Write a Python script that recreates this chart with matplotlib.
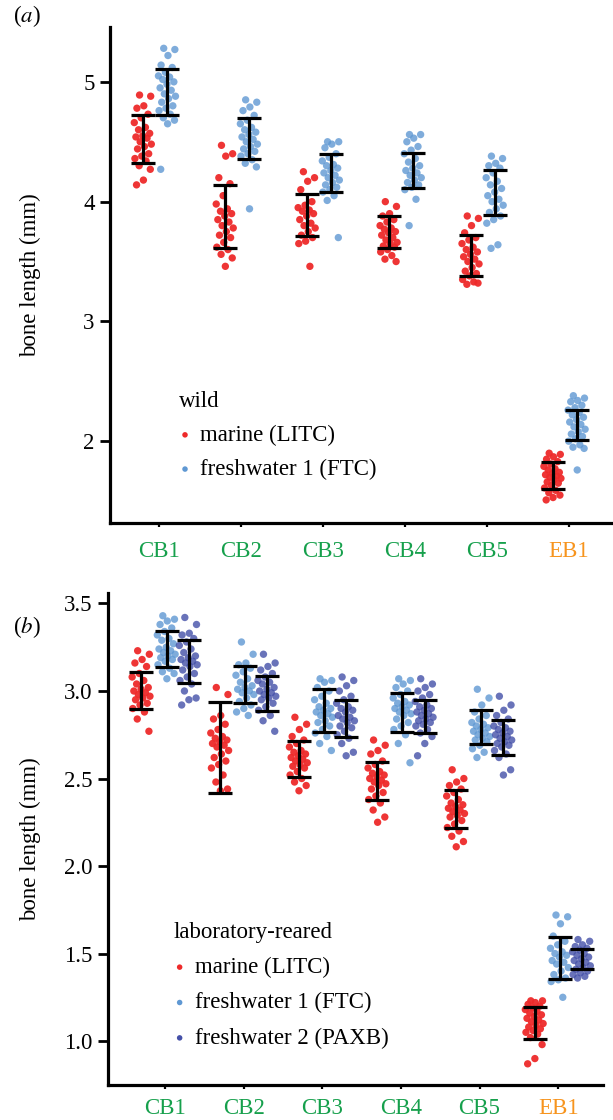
import numpy as np
import matplotlib
matplotlib.use('Agg')
import matplotlib.pyplot as plt
from matplotlib import font_manager
from matplotlib.transforms import blended_transform_factory

available = {f.name for f in font_manager.fontManager.ttflist}
serif = next(n for n in ['Liberation Serif', 'Times New Roman', 'Nimbus Roman',
                         'STIXGeneral', 'DejaVu Serif'] if n in available)
plt.rcParams['font.family'] = [serif, 'DejaVu Serif']
plt.rcParams['mathtext.fontset'] = 'stix'

bones = ['CB1', 'CB2', 'CB3', 'CB4', 'CB5', 'EB1']
bone_colors = ['#16a04c'] * 5 + ['#f7941d']

# (a) wild fish, bone length (mm)
wild_marine = [
    [4.89, 4.88, 4.80, 4.78, 4.73, 4.70, 4.66, 4.62, 4.60, 4.57, 4.55, 4.54, 4.53,
     4.50, 4.48, 4.46, 4.44, 4.40, 4.38, 4.36, 4.34, 4.30, 4.27, 4.18, 4.14],
    [4.47, 4.40, 4.38, 4.20, 4.15, 4.05, 3.98, 3.94, 3.92, 3.90, 3.88, 3.85, 3.83,
     3.80, 3.78, 3.75, 3.72, 3.70, 3.66, 3.62, 3.60, 3.56, 3.53, 3.46],
    [4.25, 4.20, 4.17, 4.10, 4.00, 3.97, 3.95, 3.93, 3.92, 3.90, 3.88, 3.85, 3.82,
     3.80, 3.78, 3.75, 3.72, 3.70, 3.67, 3.65, 3.46],
    [4.00, 3.96, 3.90, 3.88, 3.85, 3.83, 3.80, 3.78, 3.77, 3.75, 3.74, 3.72, 3.70,
     3.68, 3.66, 3.65, 3.63, 3.62, 3.60, 3.58, 3.55, 3.52, 3.50],
    [3.88, 3.86, 3.80, 3.74, 3.70, 3.68, 3.65, 3.62, 3.60, 3.58, 3.56, 3.54, 3.52,
     3.50, 3.48, 3.45, 3.42, 3.40, 3.38, 3.35, 3.33, 3.31, 3.32],
    [1.90, 1.89, 1.87, 1.85, 1.83, 1.81, 1.79, 1.77, 1.76, 1.74, 1.73, 1.72, 1.71,
     1.70, 1.69, 1.68, 1.66, 1.65, 1.63, 1.61, 1.59, 1.57, 1.55, 1.53, 1.51],
]
wild_fresh1 = [
    [5.28, 5.27, 5.22, 5.14, 5.12, 5.08, 5.05, 5.04, 5.02, 5.00, 4.98, 4.95, 4.93,
     4.90, 4.88, 4.86, 4.83, 4.80, 4.78, 4.76, 4.73, 4.70, 4.68, 4.65, 4.27],
    [4.85, 4.83, 4.79, 4.76, 4.72, 4.68, 4.65, 4.62, 4.60, 4.58, 4.56, 4.54, 4.52,
     4.50, 4.48, 4.46, 4.44, 4.42, 4.40, 4.38, 4.35, 4.32, 4.29, 3.94],
    [4.50, 4.50, 4.48, 4.45, 4.40, 4.37, 4.34, 4.31, 4.30, 4.28, 4.26, 4.24, 4.22,
     4.20, 4.18, 4.16, 4.14, 4.12, 4.10, 4.08, 4.05, 4.01, 3.70],
    [4.56, 4.56, 4.53, 4.50, 4.46, 4.43, 4.40, 4.36, 4.33, 4.30, 4.28, 4.26, 4.24,
     4.22, 4.20, 4.18, 4.16, 4.14, 4.12, 4.10, 4.02, 3.80],
    [4.38, 4.36, 4.32, 4.30, 4.28, 4.24, 4.20, 4.17, 4.14, 4.11, 4.08, 4.05, 4.02,
     4.00, 3.97, 3.94, 3.91, 3.88, 3.85, 3.82, 3.64, 3.61],
    [2.38, 2.36, 2.34, 2.33, 2.30, 2.28, 2.26, 2.24, 2.22, 2.20, 2.18, 2.16, 2.14,
     2.12, 2.10, 2.08, 2.06, 2.04, 2.02, 2.00, 1.97, 1.95, 1.94, 1.76],
]
# error bar ends
wild_marine_lo = [4.32, 3.61, 3.71, 3.61, 3.38, 1.60]
wild_marine_hi = [4.72, 4.14, 4.06, 3.88, 3.72, 1.83]
wild_fresh1_lo = [4.725, 4.36, 4.08, 4.11, 3.89, 2.01]
wild_fresh1_hi = [5.105, 4.70, 4.40, 4.41, 4.26, 2.26]

# (b) laboratory-reared fish, bone length (mm)
lab_marine = [
    [3.23, 3.21, 3.18, 3.16, 3.14, 3.10, 3.08, 3.06, 3.04, 3.02, 3.01, 3.00, 2.99,
     2.98, 2.97, 2.96, 2.95, 2.93, 2.92, 2.90, 2.88, 2.84, 2.77],
    [3.02, 2.98, 2.86, 2.84, 2.81, 2.78, 2.76, 2.74, 2.73, 2.72, 2.71, 2.70, 2.69,
     2.68, 2.66, 2.64, 2.62, 2.60, 2.58, 2.56, 2.52, 2.48, 2.44, 2.43],
    [2.85, 2.81, 2.78, 2.74, 2.72, 2.70, 2.68, 2.66, 2.65, 2.64, 2.63, 2.62, 2.61,
     2.60, 2.59, 2.58, 2.57, 2.56, 2.54, 2.52, 2.50, 2.48, 2.46, 2.43],
    [2.72, 2.69, 2.66, 2.64, 2.60, 2.58, 2.56, 2.54, 2.53, 2.52, 2.51, 2.50, 2.49,
     2.48, 2.47, 2.46, 2.44, 2.42, 2.40, 2.38, 2.36, 2.32, 2.28, 2.25],
    [2.55, 2.50, 2.48, 2.46, 2.44, 2.42, 2.40, 2.38, 2.36, 2.35, 2.34, 2.33, 2.32,
     2.31, 2.30, 2.29, 2.28, 2.26, 2.24, 2.22, 2.20, 2.17, 2.14, 2.11],
    [1.23, 1.23, 1.22, 1.21, 1.20, 1.19, 1.18, 1.17, 1.16, 1.15, 1.14, 1.13, 1.12,
     1.11, 1.10, 1.09, 1.08, 1.07, 1.06, 1.05, 1.04, 1.02, 0.98, 0.90, 0.87],
]
lab_fresh1 = [
    [3.43, 3.41, 3.40, 3.38, 3.36, 3.34, 3.32, 3.30, 3.29, 3.27, 3.25, 3.24, 3.23,
     3.22, 3.21, 3.20, 3.19, 3.18, 3.17, 3.15, 3.13, 3.11, 3.10, 3.07],
    [3.28, 3.21, 3.16, 3.15, 3.13, 3.11, 3.09, 3.07, 3.05, 3.03, 3.02, 3.01, 3.00,
     2.99, 2.98, 2.96, 2.94, 2.92, 2.90, 2.88, 2.86],
    [3.07, 3.06, 3.05, 3.02, 3.00, 2.97, 2.95, 2.93, 2.91, 2.90, 2.89, 2.88, 2.87,
     2.86, 2.85, 2.83, 2.82, 2.80, 2.78, 2.76, 2.74, 2.70, 2.66],
    [3.07, 3.06, 3.04, 3.02, 3.00, 2.98, 2.96, 2.94, 2.93, 2.92, 2.91, 2.90, 2.89,
     2.88, 2.87, 2.86, 2.84, 2.82, 2.80, 2.78, 2.75, 2.70, 2.59],
    [3.01, 2.96, 2.92, 2.88, 2.86, 2.84, 2.82, 2.81, 2.80, 2.79, 2.78, 2.77, 2.76,
     2.75, 2.74, 2.73, 2.72, 2.71, 2.69, 2.67, 2.65, 2.62],
    [1.72, 1.71, 1.67, 1.60, 1.57, 1.55, 1.53, 1.51, 1.50, 1.49, 1.48, 1.46, 1.45,
     1.44, 1.42, 1.40, 1.38, 1.36, 1.35, 1.34, 1.25],
]
lab_fresh2 = [
    [3.42, 3.38, 3.33, 3.32, 3.30, 3.28, 3.26, 3.24, 3.22, 3.20, 3.19, 3.18, 3.17,
     3.16, 3.15, 3.14, 3.12, 3.10, 3.08, 3.06, 3.04, 3.00, 2.96, 2.95, 2.92],
    [3.21, 3.16, 3.14, 3.12, 3.10, 3.08, 3.06, 3.05, 3.04, 3.02, 3.01, 3.00, 2.99,
     2.98, 2.97, 2.96, 2.95, 2.93, 2.91, 2.89, 2.86, 2.83, 2.77],
    [3.08, 3.06, 3.03, 3.00, 2.97, 2.95, 2.93, 2.91, 2.90, 2.89, 2.88, 2.86, 2.85,
     2.84, 2.83, 2.82, 2.80, 2.79, 2.77, 2.75, 2.73, 2.70, 2.65, 2.63],
    [3.07, 3.04, 3.02, 3.00, 2.98, 2.96, 2.94, 2.92, 2.91, 2.90, 2.89, 2.88, 2.87,
     2.86, 2.85, 2.84, 2.83, 2.82, 2.81, 2.80, 2.78, 2.76, 2.74, 2.70, 2.63],
    [2.97, 2.92, 2.89, 2.86, 2.84, 2.82, 2.80, 2.79, 2.78, 2.77, 2.76, 2.75, 2.74,
     2.73, 2.72, 2.71, 2.70, 2.69, 2.68, 2.66, 2.64, 2.62, 2.55, 2.52],
    [1.58, 1.57, 1.55, 1.54, 1.53, 1.52, 1.51, 1.50, 1.49, 1.48, 1.47, 1.46, 1.45,
     1.44, 1.43, 1.42, 1.41, 1.40, 1.39, 1.38, 1.37, 1.36],
]
lab_marine_lo = [2.90, 2.42, 2.507, 2.377, 2.215, 1.01]
lab_marine_hi = [3.11, 2.94, 2.714, 2.592, 2.434, 1.196]
lab_fresh1_lo = [3.135, 2.93, 2.764, 2.764, 2.695, 1.354]
lab_fresh1_hi = [3.343, 3.14, 3.01, 2.987, 2.889, 1.592]
lab_fresh2_lo = [3.044, 2.886, 2.735, 2.758, 2.634, 1.411]
lab_fresh2_hi = [3.291, 3.086, 2.949, 2.949, 2.832, 1.526]

RED = '#ee2a2a'
LBLUE = '#5f98d3'
DBLUE = '#4450a8'
FS = 16.5


def strip(ax, groups, lo, hi, offset, color, alpha, label, half=0.11):
    for i, vals in enumerate(groups):
        vals = np.asarray(vals)
        n = len(vals)
        jit = ((np.arange(n) * 0.618034 + 0.3) % 1 - 0.5) * 2 * half
        ax.scatter(i + offset + jit, vals, s=28, color=color, alpha=alpha,
                   edgecolors='none', zorder=2, label=label if i == 0 else None)
    lo = np.asarray(lo)
    hi = np.asarray(hi)
    mid = (lo + hi) / 2
    ax.errorbar(np.arange(len(lo)) + offset, mid, yerr=(hi - lo) / 2, fmt='none',
                ecolor='black', elinewidth=2.3, capsize=8.3, capthick=2.3, zorder=3)


def style(ax, xpad):
    for s in ['top', 'right']:
        ax.spines[s].set_visible(False)
    for s in ['left', 'bottom']:
        ax.spines[s].set_linewidth(2.3)
    ax.tick_params(axis='y', length=7, width=2, labelsize=FS, pad=4)
    ax.tick_params(axis='x', length=3, width=1.6, labelsize=FS, pad=xpad)
    ax.set_xticks(range(len(bones)))
    ax.set_xticklabels(bones)
    for t, c in zip(ax.get_xticklabels(), bone_colors):
        t.set_color(c)
    ax.set_ylabel('bone length (mm)', fontsize=FS, va='center')
    # y label centred about 30 px from the left edge of the figure
    ax.yaxis.set_label_coords(30 / 613, 0.5,
                              transform=blended_transform_factory(fig.transFigure, ax.transAxes))


fig = plt.figure(figsize=(6.13, 11.2), dpi=100)

ax1 = fig.add_axes([0.1794, 0.533, 0.8206, 0.4429])
strip(ax1, wild_marine, wild_marine_lo, wild_marine_hi, -0.195, RED, 0.95, 'marine (LITC)')
strip(ax1, wild_fresh1, wild_fresh1_lo, wild_fresh1_hi, 0.10, LBLUE, 0.8, 'freshwater 1 (FTC)')
ax1.set_xlim(-0.6, 5.54)
ax1.set_ylim(1.317, 5.458)
ax1.set_yticks([2, 3, 4, 5])
style(ax1, 10)
leg1 = ax1.legend(title='wild', loc='upper left', bbox_to_anchor=(0.115, 0.29),
                  frameon=False, fontsize=FS, title_fontsize=FS, handlelength=0.5,
                  handletextpad=0.4, markerscale=0.75, labelspacing=0.57,
                  borderpad=0, alignment='left')

ax2 = fig.add_axes([0.1762, 0.03125, 0.8075, 0.4393])
strip(ax2, lab_marine, lab_marine_lo, lab_marine_hi, -0.30, RED, 0.95, 'marine (LITC)', 0.12)
strip(ax2, lab_fresh1, lab_fresh1_lo, lab_fresh1_hi, 0.02, LBLUE, 0.8, 'freshwater 1 (FTC)', 0.12)
strip(ax2, lab_fresh2, lab_fresh2_lo, lab_fresh2_hi, 0.30, DBLUE, 0.8, 'freshwater 2 (PAXB)', 0.12)
ax2.set_xlim(-0.725, 5.57)
ax2.set_ylim(0.749, 3.56)
ax2.set_yticks([1.0, 1.5, 2.0, 2.5, 3.0, 3.5])
ax2.set_yticklabels(['1.0', '1.5', '2.0', '2.5', '3.0', '3.5'])
style(ax2, 6)
leg2 = ax2.legend(title='laboratory-reared', loc='upper left', bbox_to_anchor=(0.11, 0.355),
                  frameon=False, fontsize=FS, title_fontsize=FS, handlelength=0.5,
                  handletextpad=0.4, markerscale=0.75, labelspacing=0.62,
                  borderpad=0, alignment='left')
for leg in (leg1, leg2):
    for h in leg.legend_handles:
        h.set_alpha(1)

fig.text(13 / 613, 1 - 16 / 1120, r'($\mathit{a}$)', fontsize=FS, va='center')
fig.text(13 / 613, 1 - 627 / 1120, r'($\mathit{b}$)', fontsize=FS, va='center')

fig.savefig('out.png', dpi=100)
